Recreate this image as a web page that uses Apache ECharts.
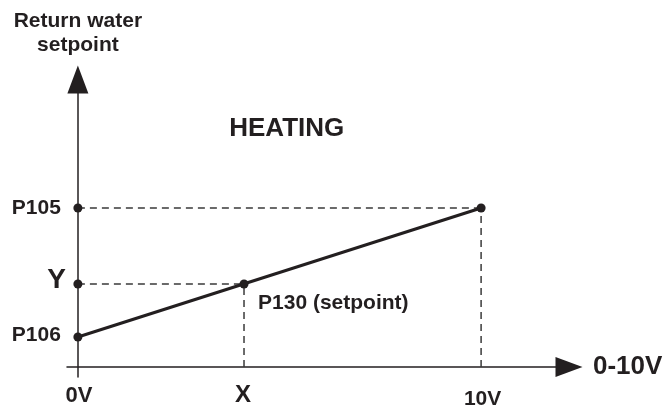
<!DOCTYPE html>
<html><head><meta charset="utf-8">
<script src="https://cdn.jsdelivr.net/npm/echarts@6/dist/echarts.min.js"></script>
<style>html,body{margin:0;padding:0;background:#fff}#c{width:668px;height:412px}</style>
</head><body><div id="c"></div>
<script>
// ---- data ----
const xTickValues = [0, 4.12, 10];
const xTickLabels = ['0V', 'X', '10V'];
const yTickValues = [3.0, 8.3, 15.9];
const yTickLabels = ['P106', 'Y', 'P105'];
const lineX = [0, 10];
const lineY = [3.0, 15.9];
const setpointX = 4.12;
const setpointY = 8.3;
const setpointLabel = 'P130 (setpoint)';
const xAxisName = '0-10V';
const yAxisName = 'Return water\nsetpoint';
const modeLabel = 'HEATING';

// ---- style ----
const INK = '#231f20';
const DASH = '#3a3a3a';
const FONT = 'Liberation Sans';

const yLabelFmt = [
  {fontSize: 21, offset: [-17, -2]},
  {fontSize: 28, offset: [-12, -4]},
  {fontSize: 21, offset: [-17, 0]}
];
const xLabelFmt = [
  {fontSize: 22, offset: [1, 28.5]},
  {fontSize: 24, offset: [-1, 28]},
  {fontSize: 21, offset: [1.5, 32.5]}
];

const dashStyle = {color: DASH, width: 1.5, type: [7, 5]};
function seg(pts) {
  return {type: 'line', data: pts, showSymbol: false, symbol: 'none',
    lineStyle: dashStyle, silent: true, z: 2};
}

function lbl(text, fontSize, align, offset) {
  return {show: true, formatter: text, position: 'inside', align: align,
    verticalAlign: 'middle', offset: offset, fontSize: fontSize,
    fontWeight: 'bold', fontFamily: FONT, color: INK, opacity: 1,
    textBorderWidth: 0};
}

const dots = yTickValues.map((v, i) => ({
  value: [lineX[0], v],
  label: lbl(yTickLabels[i], yLabelFmt[i].fontSize, 'right', yLabelFmt[i].offset)
}));
dots.push({value: [setpointX, setpointY], label: lbl(setpointLabel, 21, 'left', [14, 19.3])});
dots.push({value: [lineX[1], lineY[1]]});

const xLabels = xTickValues.map((v, i) => ({
  value: [v, 0],
  label: lbl(xTickLabels[i], xLabelFmt[i].fontSize, 'center', xLabelFmt[i].offset)
}));

const chart = echarts.init(document.getElementById('c'), null, {renderer: 'canvas'});
chart.setOption({
  animation: false,
  backgroundColor: '#fff',
  grid: {left: 67, top: 79.5, width: 502, height: 297.5, containLabel: false, outerBoundsMode: 'none'},
  xAxis: {
    type: 'value', min: -0.27, max: 12.18,
    axisLine: {show: true, onZero: true, lineStyle: {color: INK, width: 1.5},
      symbol: ['none', 'triangle'], symbolSize: [20, 27]},
    axisTick: {show: false}, axisLabel: {show: false}, splitLine: {show: false},
    name: xAxisName, nameLocation: 'end', nameGap: 24, nameMoveOverlap: false,
    nameTextStyle: {fontSize: 26, fontWeight: 'bold', fontFamily: FONT, color: INK,
      align: 'left', verticalAlign: 'middle', padding: [4, 0, 0, 0]}
  },
  yAxis: {
    type: 'value', min: -1, max: 28.75,
    axisLine: {show: true, onZero: true, lineStyle: {color: INK, width: 1.5},
      symbol: ['none', 'triangle'], symbolSize: [21, 28]},
    axisTick: {show: false}, axisLabel: {show: false}, splitLine: {show: false},
    name: yAxisName, nameLocation: 'end', nameGap: 23, nameMoveOverlap: false,
    nameTextStyle: {fontSize: 21, fontWeight: 'bold', fontFamily: FONT, color: INK,
      align: 'center', verticalAlign: 'bottom', lineHeight: 23.4}
  },
  graphic: [{
    type: 'text', x: 286.7, y: 129,
    style: {text: modeLabel, fontSize: 26, fontWeight: 'bold', fontFamily: FONT,
      fill: INK, align: 'center', verticalAlign: 'middle'}
  }],
  series: [
    seg([[lineX[0], lineY[1]], [lineX[1], lineY[1]]]),
    seg([[lineX[1], 0], [lineX[1], lineY[1]]]),
    seg([[lineX[0], setpointY], [setpointX, setpointY]]),
    seg([[setpointX, 0], [setpointX, setpointY]]),
    {type: 'line', data: [[lineX[0], lineY[0]], [lineX[1], lineY[1]]], showSymbol: false,
      symbol: 'none', lineStyle: {color: INK, width: 3}, z: 3, silent: true},
    {type: 'scatter', data: dots, symbolSize: 9, itemStyle: {color: INK, opacity: 1}, z: 5, silent: true},
    {type: 'scatter', data: xLabels, symbolSize: 1, itemStyle: {color: '#ffffff', opacity: 0}, z: 5, silent: true}
  ]
});
</script>
</body></html>
